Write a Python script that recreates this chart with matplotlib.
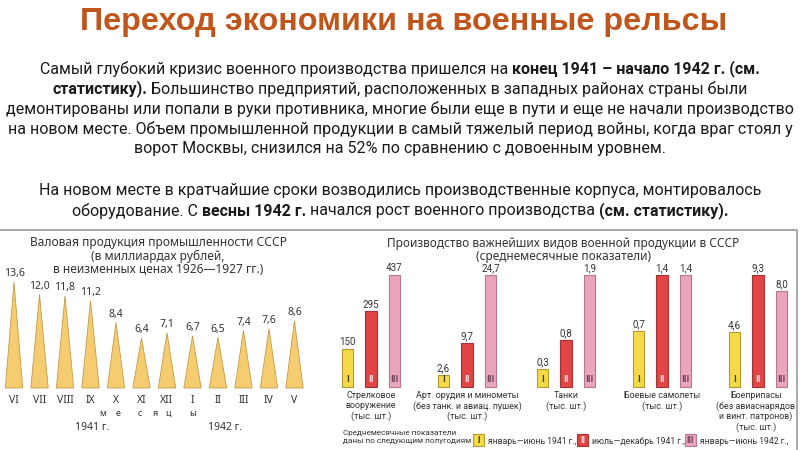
import matplotlib
matplotlib.use("Agg")
import matplotlib.pyplot as plt
from matplotlib.patches import Rectangle

# данные: валовая продукция промышленности (млрд руб.)
months = ["VI", "VII", "VIII", "IX", "X", "XI", "XII", "I", "II", "III", "IV", "V"]
gross_output = [13.6, 12.0, 11.8, 11.2, 8.4, 6.4, 7.1, 6.7, 6.5, 7.4, 7.6, 8.6]

# данные: военная продукция (среднемесячно по полугодиям)
periods = ["I", "II", "III"]
weapons = ["Стрелковое\nвооружение\n(тыс. шт.)",
           "Арт. орудия и минометы\n(без танк. и авиац. пушек)\n(тыс. шт.)",
           "Танки\n(тыс. шт.)",
           "Боевые самолеты\n(тыс. шт.)",
           "Боеприпасы\n(без авиаснарядов\nи винт. патронов)\n(тыс. шт.)"]
weapon_values = [[150, 295, 437],
                 [2.6, 9.7, 24.7],
                 [0.3, 0.8, 1.9],
                 [0.7, 1.4, 1.4],
                 [4.6, 9.3, 8.0]]
period_names = ["январь—июнь 1941 г.,", "июль—декабрь 1941 г.,", "январь—июнь 1942 г.,"]

W, H = 800, 450
TEXT_FONT = ["Roboto", "DejaVu Sans"]
CHART_FONT = ["Noto Sans", "DejaVu Sans"]
SMALL_FONT = ["Roboto", "DejaVu Sans"]
bar_colors = ["#f6d947", "#e24545", "#eba4bd"]
bar_edges = ["#b49a2e", "#a83232", "#b5788c"]
num_colors = ["#4a3c0c", "#f6d6d6", "#74465a"]


def box(x0, y0, x1, y1):
    # пиксели (сверху вниз) -> доли фигуры
    return [x0 / W, 1 - y1 / H, (x1 - x0) / W, (y1 - y0) / H]


fig = plt.figure(figsize=(8, 4.5), dpi=100)
ax0 = fig.add_axes([0, 0, 1, 1])
ax0.set_xlim(0, W)
ax0.set_ylim(H, 0)
ax0.axis("off")
renderer = fig.canvas.get_renderer()


def text_width(s, bold, size):
    t1 = ax0.text(0, 0, "x" + s + "x", fontsize=size, family=TEXT_FONT,
                  fontweight="bold" if bold else "normal")
    t2 = ax0.text(0, 0, "xx", fontsize=size, family=TEXT_FONT,
                  fontweight="bold" if bold else "normal")
    w = t1.get_window_extent(renderer).width - t2.get_window_extent(renderer).width
    t1.remove()
    t2.remove()
    return w


def rich_line(y, segments, size=12, cx=400):
    widths = [text_width(s, b, size) for s, b in segments]
    x = cx - sum(widths) / 2
    for (s, b), w in zip(segments, widths):
        ax0.text(x, y, s, fontsize=size, family=TEXT_FONT, color="#1a1a1a",
                 fontweight="bold" if b else "normal", ha="left", va="center")
        x += w


# заголовок
ax0.text(404, 22, "Переход экономики на военные рельсы", fontsize=23.3,
         fontweight="bold", color="#c0561c", ha="center", va="center",
         family=["Liberation Sans", "DejaVu Sans"])

lines = [
    (69, [("Самый глубокий кризис военного производства пришелся на ", False),
          ("конец 1941 – начало 1942 г. (см.", True)]),
    (89, [("статистику).", True),
          (" Большинство предприятий, расположенных в западных районах страны были", False)]),
    (109, [("демонтированы или попали в руки противника, многие были еще в пути и еще не начали производство", False)]),
    (129, [("на новом месте. Объем промышленной продукции в самый тяжелый период войны, когда враг стоял у", False)]),
    (149, [("ворот Москвы, снизился на 52% по сравнению с довоенным уровнем.", False)]),
    (190, [("На новом месте в кратчайшие сроки возводились производственные корпуса, монтировалось", False)]),
    (211, [("оборудование. С ", False), ("весны 1942 г.", True),
           (" начался рост военного производства ", False), ("(см. статистику).", True)]),
]
# подбор кегля по самой длинной строке (в оригинале ~794 px)
para_size = 10 * 790 / text_width(lines[2][1][0][0], False, 10)
for y, segs in lines:
    rich_line(y, segs, size=para_size)

# рамка
ax0.plot([0, 797, 797], [230, 230, 452], color="#9a9a9a", lw=1.2)

# --- левая диаграмма: треугольники ---
ax0.text(158, 256, "Валовая продукция промышленности СССР\n(в миллиардах рублей,\nв неизменных ценах 1926—1927 гг.)",
         fontsize=8.6, ha="center", va="center", color="#333333", family=CHART_FONT,
         linespacing=1.05)

ax1 = fig.add_axes(box(0, 274, 308.5, 388))
ax1.set_xlim(-0.55, len(months) - 0.45)
ax1.set_ylim(0, 114 / 7.8)
ax1.axis("off")
half = 0.34
for i, v in enumerate(gross_output):
    ax1.fill([i - half, i, i + half], [0, v, 0], facecolor="#f6cc70",
             edgecolor="#c49a48", lw=0.6, clip_on=False)
    ax1.annotate(f"{v:.1f}".replace(".", ","), (i, v), xytext=(0, 2),
                 textcoords="offset points", ha="center", va="bottom",
                 fontsize=7.5, color="#333333", family=CHART_FONT,
                 annotation_clip=False)
    ax1.annotate(months[i], (i, 0), xytext=(0, -9), textcoords="offset points",
                 ha="center", va="center", fontsize=7.5, color="#333333",
                 family=CHART_FONT, annotation_clip=False)

for ch, x in zip("месяцы", [103, 118, 140, 155, 168, 193]):
    ax0.text(x, 413, ch, fontsize=6.5, ha="center", va="center",
             color="#333333", family=CHART_FONT)
ax0.text(92, 427, "1941 г.", fontsize=7.5, ha="center", va="center",
         color="#333333", family=CHART_FONT)
ax0.text(225, 427, "1942 г.", fontsize=7.5, ha="center", va="center",
         color="#333333", family=CHART_FONT)

# --- правая диаграмма: столбики ---
ax0.text(563, 250, "Производство важнейших видов военной продукции в СССР\n(среднемесячные показатели)",
         fontsize=8.5, ha="center", va="center", color="#333333", family=CHART_FONT,
         linespacing=0.95)

group_centers = [371, 467, 566, 662, 758]
step = 23.5
for g, (cx, vals) in enumerate(zip(group_centers, weapon_values)):
    axg = fig.add_axes(box(cx - 1.5 * step, 275, cx + 1.5 * step, 387))
    axg.set_xlim(-0.5, 2.5)
    axg.set_ylim(0, max(vals))
    axg.axis("off")
    xs = range(len(vals))
    axg.bar(xs, vals, width=0.47, color=bar_colors, edgecolor=bar_edges,
            lw=0.8, clip_on=False)
    for j, v in enumerate(vals):
        lab = f"{v:g}".replace(".", ",") if v >= 100 else f"{v:.1f}".replace(".", ",")
        axg.annotate(lab, (j, v), xytext=(0, 1.2), textcoords="offset points",
                     ha="center", va="bottom", fontsize=7, color="#333333",
                     family=SMALL_FONT, annotation_clip=False)
        axg.annotate(periods[j], (j, 0), xytext=(0, 2), textcoords="offset points",
                     ha="center", va="bottom", fontsize=6.8, fontweight="bold",
                     color=num_colors[j], family=SMALL_FONT, annotation_clip=False)
    ax0.text(cx - 2 if g == 4 else cx, 391, weapons[g], fontsize=6.4, ha="center",
             va="top", color="#333333", family=SMALL_FONT, linespacing=1.15)

# легенда
ax0.text(343, 437, "Среднемесячные показатели\nданы по следующим полугодиям",
         fontsize=5.9, ha="left", va="center", color="#333333", family=SMALL_FONT,
         linespacing=1.2)
for j, x in enumerate([473, 577, 685]):
    ax0.add_patch(Rectangle((x, 434), 11, 12, facecolor=bar_colors[j],
                            edgecolor=bar_edges[j], lw=0.8))
    ax0.text(x + 5.5, 440.5, periods[j], fontsize=6.5, fontweight="bold",
             ha="center", va="center", color=num_colors[j], family=SMALL_FONT)
    ax0.text(x + 15, 441, period_names[j], fontsize=6.2, ha="left", va="center",
             color="#333333", family=SMALL_FONT)

fig.savefig("out.png", dpi=100)
